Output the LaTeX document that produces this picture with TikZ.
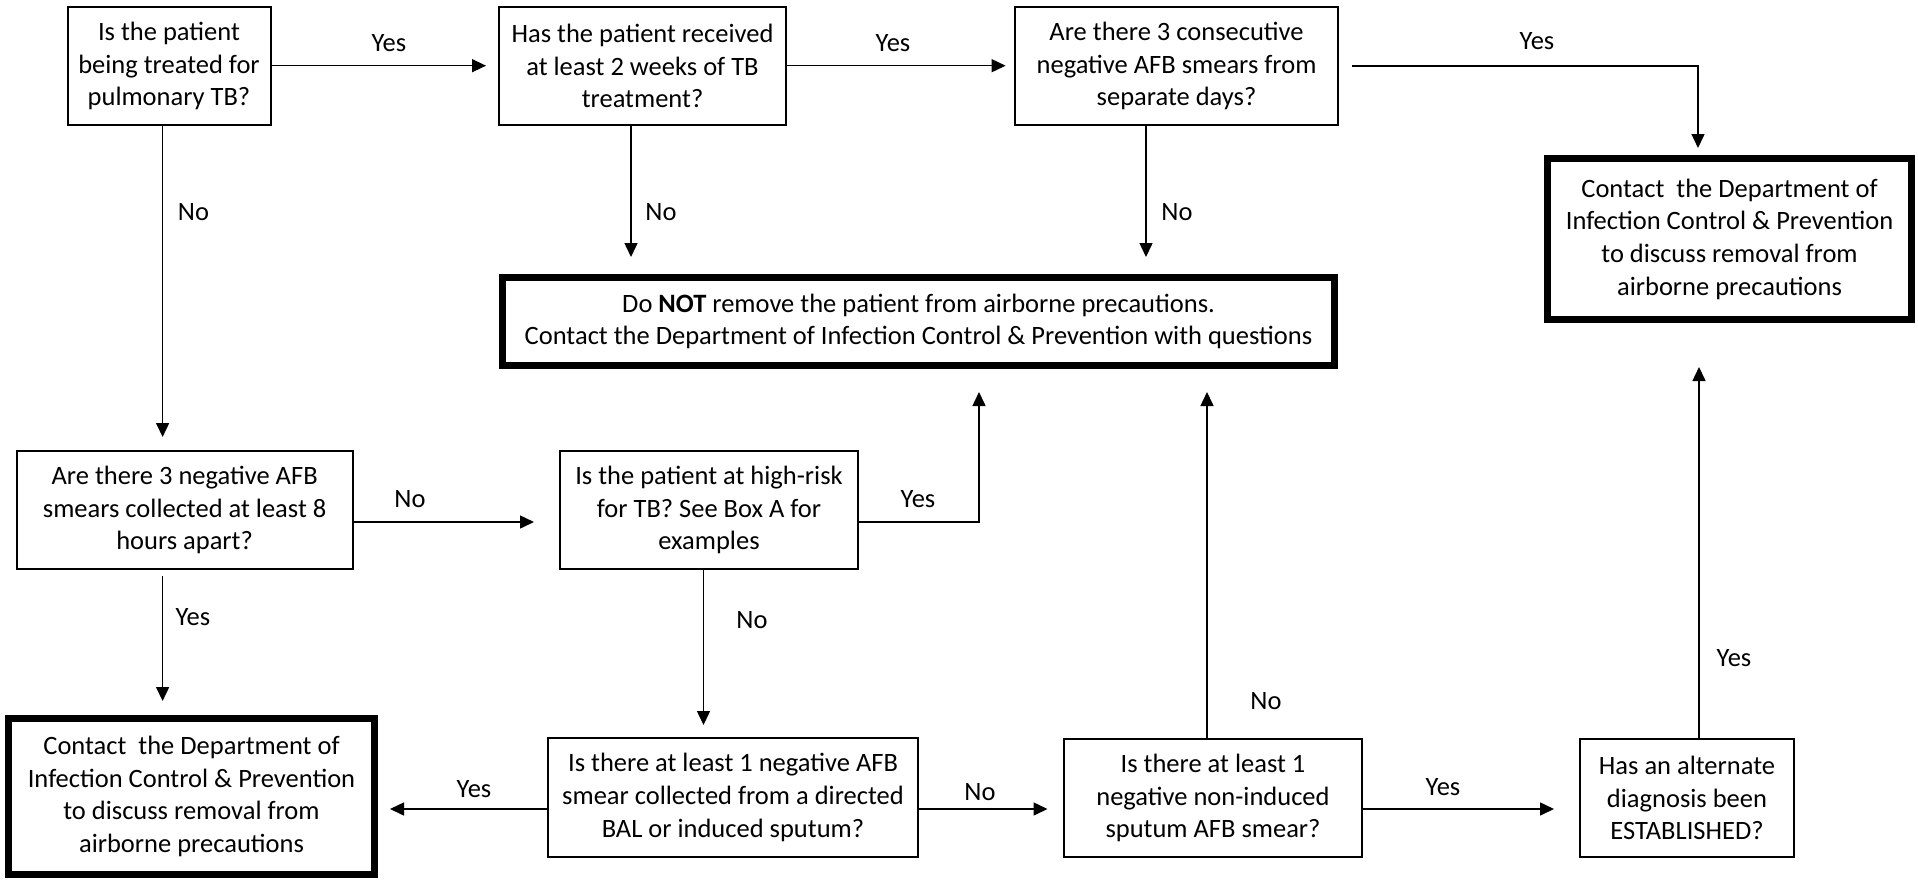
\documentclass[tikz,border=0pt]{standalone}
\usepackage{fontspec}
\setmainfont{Carlito}
\usetikzlibrary{arrows.meta,calc}
\newcommand\myfs{\fontsize{26.5}{32.7}\selectfont}
\begin{document}
\begin{tikzpicture}[x=1pt,y=-1pt,
  qbox/.style={draw,line width=2pt,align=center,inner sep=0pt,font=\myfs},
  endbox/.style={draw,line width=7pt,align=center,inner sep=0pt,font=\myfs},
  conn/.style={line width=1.5pt,-{Triangle[length=14pt,width=13pt]}},
  lbl/.style={font=\myfs,inner sep=0pt}]
\useasboundingbox[fill=white] (0,0) rectangle (1918,880);

% question boxes
\node[qbox,minimum width=203pt,minimum height=118pt] (Q1) at (169,66) {Is the patient\\being treated for\\pulmonary TB?};
\node[qbox,minimum width=287pt,minimum height=118pt] (Q2) at (642.5,66) {Has the patient received\\at least 2 weeks of TB\\treatment?};
\node[qbox,minimum width=323pt,minimum height=118pt] (Q3) at (1176.5,66) {Are there 3 consecutive\\negative AFB smears from\\separate days?};
\node[qbox,minimum width=336pt,minimum height=118pt] (Q4) at (184.6,510) {Are there 3 negative AFB\\smears collected at least 8\\hours apart?};
\node[qbox,minimum width=298pt,minimum height=118pt] (Q5) at (709,510) {Is the patient at high-risk\\for TB? See Box A for\\examples};
\node[qbox,minimum width=369.5pt,minimum height=119pt] (Q6) at (733,797.5) {Is there at least 1 negative AFB\\smear collected from a directed\\BAL or induced sputum?};
\node[qbox,minimum width=298pt,minimum height=118pt] (Q7) at (1213,798) {Is there at least 1\\negative non-induced\\sputum AFB smear?};
\node[qbox,minimum width=214pt,minimum height=118pt] (Q8) at (1687,798) {Has an alternate\\diagnosis been\\ESTABLISHED?};

% outcome boxes
\node[endbox,minimum width=832pt,minimum height=88pt] (NOT) at (918.5,321.5) {Do \textbf{NOT} remove the patient from airborne precautions.\\Contact the Department of Infection Control \& Prevention with questions};
\node[endbox,minimum width=364pt,minimum height=161pt] (C1) at (1729.5,239) {Contact\ \ the Department of\\Infection Control \& Prevention\\to discuss removal from\\airborne precautions};
\node[endbox,minimum width=366pt,minimum height=156pt] (C2) at (191.5,796.5) {Contact\ \ the Department of\\Infection Control \& Prevention\\to discuss removal from\\airborne precautions};

% arrow end points
\coordinate (t12) at (486,65.7);
\coordinate (t23) at (1005.6,65.7);
\coordinate (t3c) at (1698,148);
\coordinate (t1) at (162.6,437);
\coordinate (t2) at (631,257);
\coordinate (t3) at (1146,257);
\coordinate (t45) at (534,522);
\coordinate (t5n) at (979,392);
\coordinate (t4) at (162.6,701);
\coordinate (t5) at (703.5,725);
\coordinate (t6) at (390,809);
\coordinate (t67) at (1047.5,809);
\coordinate (t7) at (1207,392);
\coordinate (t78) at (1554,809);
\coordinate (t8) at (1699,367);

% connectors
\draw[conn] (Q1.east |- t12) -- (t12);
\draw[conn] (Q2.east |- t23) -- (t23);
\draw[conn] ([xshift=13pt]Q3.east) -| (t3c);
\draw[conn] (Q1.south -| t1) -- (t1);
\draw[conn] (Q2.south -| t2) -- (t2);
\draw[conn] (Q3.south -| t3) -- (t3);
\draw[conn] (Q4.east |- t45) -- (t45);
\draw[conn] (Q5.east |- t45) -| (t5n);
\draw[conn,shorten <=6pt] (Q4.south -| t4) -- (t4);
\draw[conn] (Q5.south -| t5) -- (t5);
\draw[conn] (Q6.west |- t6) -- (t6);
\draw[conn] (Q6.east |- t67) -- (t67);
\draw[conn] (Q7.north -| t7) -- (t7);
\draw[conn] (Q7.east |- t78) -- (t78);
\draw[conn] (Q8.north -| t8) -- (t8);

% labels
\node[lbl] (l1) at (389,43) {Yes};
\node[lbl] (l2) at (893,43) {Yes};
\node[lbl] (l3) at (1537,41) {Yes};
\node[lbl] (l4) at (193.5,212) {No};
\node[lbl] (l5) at (661,212) {No};
\node[lbl] (l6) at (1177,212) {No};
\node[lbl] (l7) at (410,499) {No};
\node[lbl] (l8) at (918,499) {Yes};
\node[lbl] (l9) at (193,617) {Yes};
\node[lbl] (l10) at (752,620) {No};
\node[lbl] (l11) at (474,789) {Yes};
\node[lbl] (l12) at (980,792) {No};
\node[lbl] (l13) at (1266,701) {No};
\node[lbl] (l14) at (1443,787) {Yes};
\node[lbl] (l15) at (1734,658) {Yes};
\end{tikzpicture}
\end{document}
